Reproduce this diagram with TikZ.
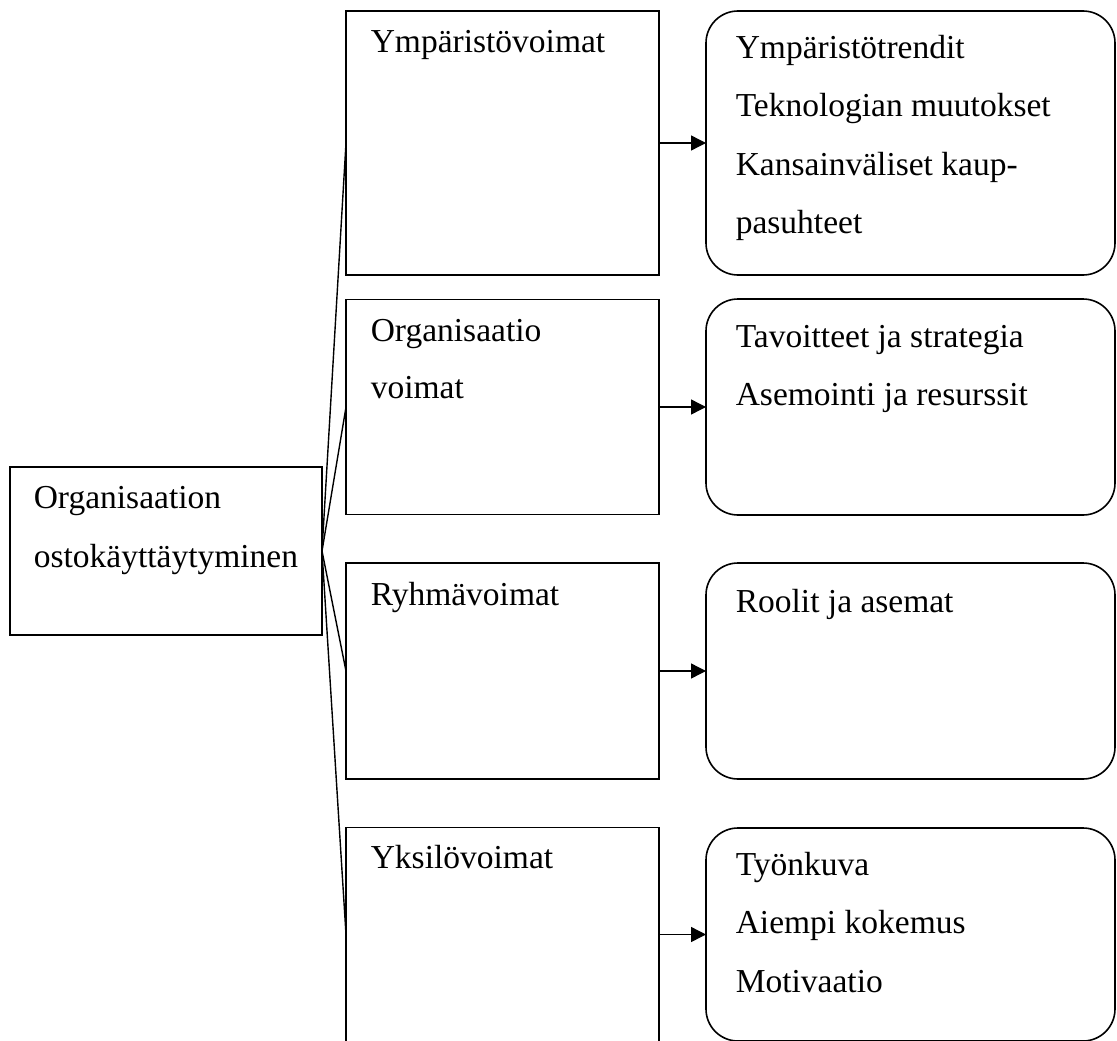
\documentclass[tikz,border=0pt]{standalone}
\usepackage{fontspec}
\setmainfont{Liberation Serif}
\usetikzlibrary{arrows.meta}
\begin{document}
\begin{tikzpicture}[x=1pt,y=-1pt,
  line width=1.6pt,
  sqbox/.style={draw,rectangle,inner sep=0pt,outer sep=0pt,minimum width=313pt},
  rbox/.style={draw,rectangle,rounded corners=32pt,inner sep=0pt,outer sep=0pt,minimum width=409pt},
  lbl/.style={anchor=base west,inner sep=0pt,font=\fontsize{33.5}{40}\selectfont},
  conn/.style={line width=1.4pt},
  arr/.style={line width=1.4pt,-{Triangle[length=15pt,width=15pt]}}]
\useasboundingbox (0,0) rectangle (1117,1041);
% left box
\node[sqbox,minimum width=312pt,minimum height=168pt] (org) at (166,551) {};
% middle boxes
\node[sqbox,minimum height=264pt] (b1) at (502.5,143) {};
\node[sqbox,minimum height=215pt] (b2) at (502.5,407) {};
\node[sqbox,minimum height=216pt] (b3) at (502.5,671) {};
\node[sqbox,minimum height=214pt] (b4) at (502.5,934.5) {};
% rounded boxes
\node[rbox,minimum height=264pt] (r1) at (910.5,143) {};
\node[rbox,minimum height=216pt] (r2) at (910.5,407) {};
\node[rbox,minimum height=216pt] (r3) at (910.5,671) {};
\node[rbox,minimum height=213pt] (r4) at (910.5,934.5) {};
% connectors
\draw[conn] (org.east) -- (b1.west);
\draw[conn] (org.east) -- (b2.west);
\draw[conn] (org.east) -- (b3.west);
\draw[conn] (org.east) -- (b4.west);
\draw[arr] (b1.east) -- (r1.west);
\draw[arr] (b2.east) -- (r2.west);
\draw[arr] (b3.east) -- (r3.west);
\draw[arr] (b4.east) -- (r4.west);
% texts
\node[lbl] (t0a) at (33,508) {Organisaation};
\node[lbl] (t0b) at (33,567) {ostokäyttäytyminen};
\node[lbl] (t1) at (370,53) {Ympäristövoimat};
\node[lbl] (t2a) at (370,341) {Organisaatio};
\node[lbl] (t2b) at (370,398) {voimat};
\node[lbl] (t3) at (370,605) {Ryhmävoimat};
\node[lbl] (t4) at (370,868) {Yksilövoimat};
\node[lbl] (s1a) at (735,59) {Ympäristötrendit};
\node[lbl] (s1b) at (735,117) {Teknologian muutokset};
\node[lbl] (s1c) at (735,175) {Kansainväliset kaup-};
\node[lbl] (s1d) at (735,233) {pasuhteet};
\node[lbl] (s2a) at (735,347) {Tavoitteet ja strategia};
\node[lbl] (s2b) at (735,405) {Asemointi ja resurssit};
\node[lbl] (s3a) at (735,612) {Roolit ja asemat};
\node[lbl] (s4a) at (735,875) {Työnkuva};
\node[lbl] (s4b) at (735,933) {Aiempi kokemus};
\node[lbl] (s4c) at (735,992) {Motivaatio};
\end{tikzpicture}
\end{document}
